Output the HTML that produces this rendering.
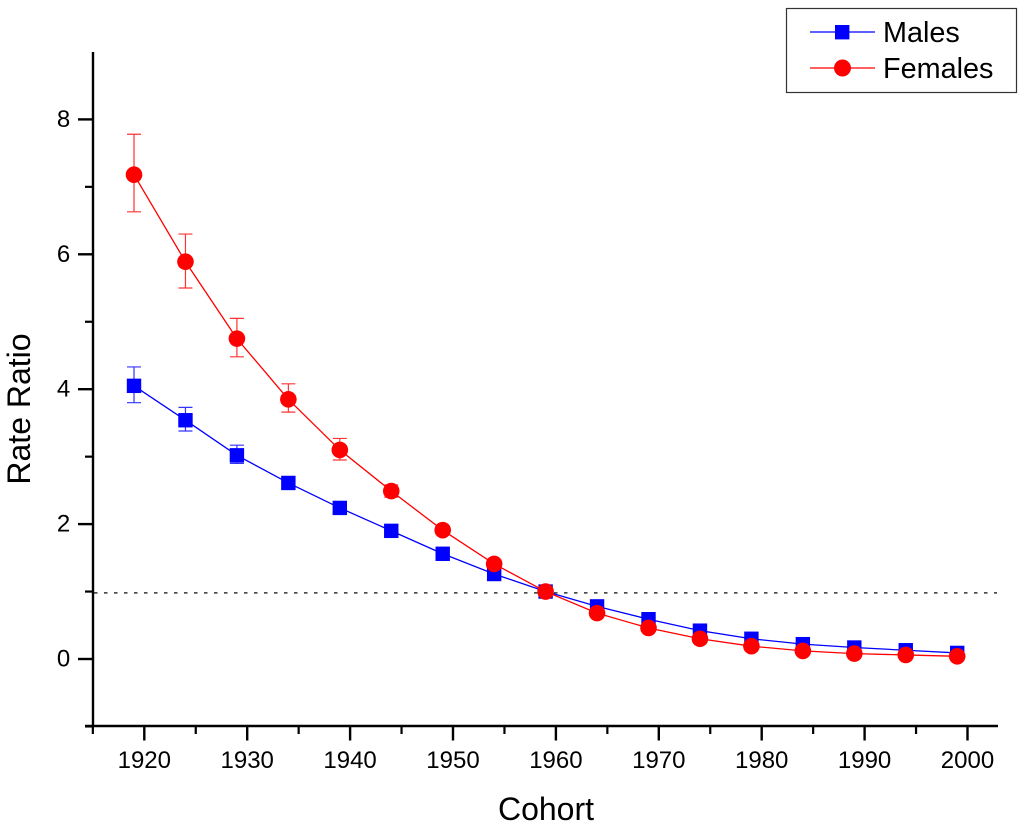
<!DOCTYPE html>
<html>
<head>
<meta charset="utf-8">
<style>
html,body{margin:0;padding:0;background:#fff;}
svg{display:block;}
text{font-family:"Liberation Sans",Arial,sans-serif;fill:#000;}
</style>
</head>
<body>
<svg id="chart" width="1024" height="830" viewBox="0 0 1024 830" xmlns="http://www.w3.org/2000/svg"></svg>
<script>
const cohorts = [1919,1924,1929,1934,1939,1944,1949,1954,1959,1964,1969,1974,1979,1984,1989,1994,1999];
const malesValues = [4.05,3.54,3.02,2.61,2.24,1.90,1.56,1.26,1.00,0.78,0.59,0.42,0.30,0.22,0.17,0.13,0.09];
const malesUpper = [4.33,3.73,3.17,2.70,2.30,1.94,1.59,1.28,1.00,0.79,0.60,0.43,0.31,0.23,0.18,0.14,0.10];
const malesLower = [3.80,3.38,2.90,2.53,2.18,1.86,1.53,1.24,1.00,0.77,0.58,0.41,0.29,0.21,0.16,0.12,0.08];
const femalesValues = [7.18,5.89,4.75,3.85,3.10,2.49,1.91,1.41,1.00,0.68,0.46,0.30,0.19,0.12,0.08,0.06,0.04];
const femalesUpper = [7.78,6.30,5.05,4.08,3.27,2.58,1.97,1.44,1.00,0.69,0.47,0.31,0.20,0.13,0.09,0.07,0.05];
const femalesLower = [6.63,5.50,4.48,3.66,2.95,2.40,1.85,1.38,1.00,0.67,0.45,0.29,0.18,0.11,0.07,0.05,0.03];
const xTicks = [1920,1930,1940,1950,1960,1970,1980,1990,2000];
const xMinorTicks = [1915,1925,1935,1945,1955,1965,1975,1985,1995];
const yTicks = [0,2,4,6,8];
const yMinorTicks = [-1,1,3,5,7];
const referenceValue = [0.98];

const svg = document.getElementById('chart');
const NS = 'http://www.w3.org/2000/svg';
function xScale(v){ return 144.3 + (v - 1920) * 10.29; }
function yScale(v){ return 659 - v * 67.45; }
function add(tag, attrs, parent){
  const el = document.createElementNS(NS, tag);
  for (const k in attrs) el.setAttribute(k, attrs[k]);
  (parent || svg).appendChild(el);
  return el;
}
function group(name){
  const g = add('g', {});
  
  
  return g;
}

// Reference line
const refGroup = group('reference-line');
referenceValue.forEach(function(v){
  add('line', {x1:94, x2:997, y1:yScale(v), y2:yScale(v), stroke:'#333', 'stroke-width':1.5, 'stroke-dasharray':'3.5 6.5'}, refGroup);
});

// Axes
const axes = group('axes');
add('line', {x1:93, x2:93, y1:52, y2:727, stroke:'#000', 'stroke-width':2.4}, axes);
add('line', {x1:85, x2:998, y1:726, y2:726, stroke:'#000', 'stroke-width':2.6}, axes);
xTicks.forEach(function(v){
  const x = xScale(v);
  const t = add('line', {x1:x, x2:x, y1:726, y2:740.5, stroke:'#000', 'stroke-width':2.4}, axes);
  
  
  const l = add('text', {x:x, y:768, 'font-size':24, 'text-anchor':'middle'}, axes);
  
  
  l.textContent = v;
});
xMinorTicks.forEach(function(v){
  const x = xScale(v);
  const t = add('line', {x1:x, x2:x, y1:726, y2:734, stroke:'#000', 'stroke-width':2.2}, axes);
  
  
});
yTicks.forEach(function(v){
  const y = yScale(v);
  const t = add('line', {x1:78, x2:93, y1:y, y2:y, stroke:'#000', 'stroke-width':2.4}, axes);
  
  
  const l = add('text', {x:63.5, y:y+7.5, 'font-size':24, 'text-anchor':'middle'}, axes);
  
  
  l.textContent = v;
});
yMinorTicks.forEach(function(v){
  const y = yScale(v);
  const t = add('line', {x1:85, x2:93, y1:y, y2:y, stroke:'#000', 'stroke-width':2.2}, axes);
  
  
});

// Axis titles
const xTitle = add('text', {x:546, y:820, 'font-size':32, 'text-anchor':'middle'});


xTitle.textContent = 'Cohort';
const yTitle = add('text', {x:0, y:0, 'font-size':32, 'text-anchor':'middle', transform:'translate(30,409) rotate(-90)'});


yTitle.textContent = 'Rate Ratio';

// Series
function drawSeries(name, color, values, upper, lower, marker){
  const g = group(name);
  const pts = values.map(function(v, i){ return xScale(cohorts[i]) + ',' + yScale(v); }).join(' ');
  values.forEach(function(v, i){
    const x = xScale(cohorts[i]);
    const yu = yScale(upper[i]);
    const yl = yScale(lower[i]);
    const e = add('path', {d:'M'+(x-7)+' '+yu+'H'+(x+7)+'M'+x+' '+yu+'V'+yl+'M'+(x-7)+' '+yl+'H'+(x+7), stroke:color, 'stroke-width':1.2, fill:'none', opacity:0.8}, g);
    
    
  });
  add('polyline', {points:pts, fill:'none', stroke:color, 'stroke-width':1.3}, g);
  values.forEach(function(v, i){
    const x = xScale(cohorts[i]);
    const y = yScale(v);
    let m;
    if (marker === 'square') {
      m = add('rect', {x:x-7.2, y:y-7.2, width:14.4, height:14.4, fill:color}, g);
    } else {
      m = add('circle', {cx:x, cy:y, r:8.3, fill:color}, g);
    }
    
    
  });
}
drawSeries('males-series', '#0000ff', malesValues, malesUpper, malesLower, 'square');
drawSeries('females-series', '#ff0000', femalesValues, femalesUpper, femalesLower, 'circle');

// Legend
const legend = group('legend');
add('rect', {x:786.5, y:8.5, width:230, height:84, fill:'#fff', stroke:'#333', 'stroke-width':1.2}, legend);
const maleEntry = add('g', {}, legend);


add('line', {x1:810, x2:875, y1:32, y2:32, stroke:'#0000ff', 'stroke-width':1.3}, maleEntry);
add('rect', {x:835, y:25, width:14.4, height:14.4, fill:'#0000ff'}, maleEntry);
const maleLabel = add('text', {x:883, y:42, 'font-size':28.8}, maleEntry);
maleLabel.textContent = 'Males';
const femaleEntry = add('g', {}, legend);


add('line', {x1:810, x2:875, y1:68, y2:68, stroke:'#ff0000', 'stroke-width':1.3}, femaleEntry);
add('circle', {cx:842.5, cy:68, r:8.5, fill:'#ff0000'}, femaleEntry);
const femaleLabel = add('text', {x:883, y:78, 'font-size':28.8}, femaleEntry);
femaleLabel.textContent = 'Females';
</script>
</body>
</html>
